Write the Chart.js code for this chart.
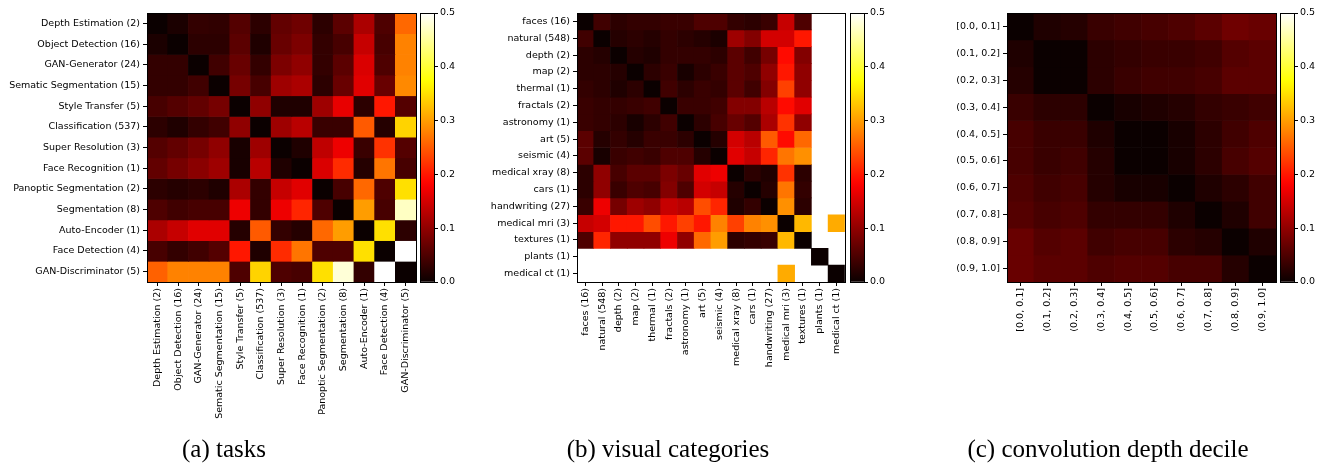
<!DOCTYPE html>
<html>
<head>
<meta charset="utf-8">
<script src="https://cdn.jsdelivr.net/npm/chart.js@4/dist/chart.umd.min.js"></script>
<style>
  body { margin: 0; background: #fff; width: 1317px; height: 463px; overflow: hidden; position: relative; }
  .box { position: absolute; top: 0; }
  .caption { position: absolute; top: 435px; font-family: "Liberation Serif", serif; font-size: 25px; line-height: 28px; color: #000; white-space: nowrap; transform: translateX(-50%); }
</style>
</head>
<body>
<div class="box" style="left:0px;width:420px;height:440px"><canvas id="taskChart"></canvas></div>
<div class="box" style="left:420px;width:40px;height:440px"><canvas id="taskBar"></canvas></div>
<div class="box" style="left:460px;width:390px;height:440px"><canvas id="visualChart"></canvas></div>
<div class="box" style="left:850px;width:40px;height:440px"><canvas id="visualBar"></canvas></div>
<div class="box" style="left:880px;width:400px;height:440px"><canvas id="depthChart"></canvas></div>
<div class="box" style="left:1280px;width:37px;height:440px"><canvas id="depthBar"></canvas></div>

<div class="caption" style="left:224px">(a) tasks</div>
<div class="caption" style="left:668px">(b) visual categories</div>
<div class="caption" style="left:1108px">(c) convolution depth decile</div>

<script>
// ---- data ----
var taskLabels = ['Depth Estimation (2)', 'Object Detection (16)', 'GAN-Generator (24)', 'Sematic Segmentation (15)',
    'Style Transfer (5)', 'Classification (537)', 'Super Resolution (3)', 'Face Recognition (1)',
    'Panoptic Segmentation (2)', 'Segmentation (8)', 'Auto-Encoder (1)', 'Face Detection (4)', 'GAN-Discriminator (5)'];

var taskValues = [
    [0, 0.012, 0.03, 0.028, 0.055, 0.025, 0.065, 0.075, 0.025, 0.06, 0.12, 0.05, 0.26],
    [0.012, 0, 0.025, 0.025, 0.06, 0.015, 0.07, 0.085, 0.03, 0.045, 0.14, 0.045, 0.28],
    [0.03, 0.03, 0, 0.04, 0.07, 0.03, 0.085, 0.1, 0.03, 0.06, 0.155, 0.05, 0.28],
    [0.03, 0.03, 0.04, 0, 0.08, 0.045, 0.11, 0.12, 0.025, 0.07, 0.16, 0.07, 0.285],
    [0.045, 0.055, 0.065, 0.08, 0, 0.1, 0.015, 0.015, 0.11, 0.165, 0.025, 0.2, 0.055],
    [0.025, 0.015, 0.03, 0.04, 0.1, 0, 0.11, 0.13, 0.035, 0.035, 0.25, 0.02, 0.34],
    [0.055, 0.065, 0.08, 0.1, 0.01, 0.11, 0, 0.015, 0.135, 0.17, 0.035, 0.22, 0.055],
    [0.065, 0.08, 0.095, 0.11, 0.01, 0.13, 0.015, 0, 0.155, 0.215, 0.02, 0.27, 0.045],
    [0.025, 0.02, 0.025, 0.015, 0.12, 0.03, 0.14, 0.16, 0, 0.045, 0.26, 0.05, 0.35],
    [0.05, 0.04, 0.045, 0.045, 0.17, 0.03, 0.17, 0.21, 0.05, 0, 0.3, 0.045, 0.47],
    [0.12, 0.14, 0.16, 0.16, 0.02, 0.25, 0.03, 0.02, 0.26, 0.3, 0, 0.35, 0.025],
    [0.045, 0.03, 0.04, 0.055, 0.2, 0.015, 0.215, 0.27, 0.05, 0.05, 0.35, 0, 0.5],
    [0.255, 0.28, 0.28, 0.28, 0.05, 0.34, 0.05, 0.045, 0.35, 0.48, 0.03, 0.5, 0]
];

var visualLabels = ['faces (16)', 'natural (548)', 'depth (2)', 'map (2)', 'thermal (1)', 'fractals (2)',
    'astronomy (1)', 'art (5)', 'seismic (4)', 'medical xray (8)', 'cars (1)', 'handwriting (27)',
    'medical mri (3)', 'textures (1)', 'plants (1)', 'medical ct (1)'];

// null = no value (left white)
var visualValues = [
    [0, 0.04, 0.025, 0.03, 0.03, 0.035, 0.035, 0.05, 0.05, 0.03, 0.025, 0.035, 0.14, 0.05, null, null],
    [0.04, 0, 0.02, 0.025, 0.02, 0.03, 0.025, 0.02, 0.012, 0.11, 0.09, 0.15, 0.15, 0.2, null, null],
    [0.025, 0.02, 0, 0.02, 0.015, 0.03, 0.03, 0.03, 0.025, 0.06, 0.04, 0.08, 0.19, 0.09, null, null],
    [0.025, 0.025, 0.02, 0, 0.025, 0.035, 0.01, 0.025, 0.035, 0.06, 0.05, 0.1, 0.2, 0.1, null, null],
    [0.03, 0.025, 0.015, 0.025, 0, 0.04, 0.025, 0.035, 0.03, 0.06, 0.04, 0.09, 0.23, 0.1, null, null],
    [0.035, 0.03, 0.03, 0.035, 0.04, 0, 0.035, 0.035, 0.04, 0.09, 0.09, 0.13, 0.19, 0.16, null, null],
    [0.035, 0.03, 0.025, 0.01, 0.025, 0.04, 0, 0.025, 0.045, 0.07, 0.055, 0.12, 0.22, 0.1, null, null],
    [0.06, 0.02, 0.03, 0.02, 0.035, 0.035, 0.025, 0, 0.02, 0.15, 0.13, 0.25, 0.19, 0.26, null, null],
    [0.06, 0.01, 0.035, 0.04, 0.035, 0.05, 0.05, 0.02, 0, 0.16, 0.14, 0.21, 0.27, 0.29, null, null],
    [0.025, 0.1, 0.045, 0.06, 0.06, 0.085, 0.07, 0.16, 0.17, 0, 0.025, 0.015, 0.22, 0.025, null, null],
    [0.025, 0.1, 0.035, 0.05, 0.045, 0.09, 0.05, 0.15, 0.14, 0.02, 0, 0.02, 0.27, 0.03, null, null],
    [0.035, 0.17, 0.08, 0.11, 0.1, 0.14, 0.13, 0.24, 0.21, 0.015, 0.03, 0, 0.29, 0.025, null, null],
    [0.14, 0.15, 0.2, 0.2, 0.24, 0.2, 0.23, 0.2, 0.28, 0.23, 0.28, 0.29, 0, 0.32, null, 0.31],
    [0.05, 0.21, 0.1, 0.1, 0.1, 0.17, 0.1, 0.26, 0.3, 0.025, 0.03, 0.035, 0.32, 0, null, null],
    [null, null, null, null, null, null, null, null, null, null, null, null, null, null, 0, null],
    [null, null, null, null, null, null, null, null, null, null, null, null, 0.31, null, null, 0]
];

var depthLabels = ['[0.0, 0.1]', '(0.1, 0.2]', '(0.2, 0.3]', '(0.3, 0.4]', '(0.4, 0.5]',
    '(0.5, 0.6]', '(0.6, 0.7]', '(0.7, 0.8]', '(0.8, 0.9]', '(0.9, 1.0]'];

var depthValues = [
    [0, 0.015, 0.02, 0.035, 0.04, 0.045, 0.05, 0.06, 0.075, 0.07],
    [0.015, 0, 0, 0.025, 0.03, 0.035, 0.035, 0.04, 0.055, 0.06],
    [0.02, 0, 0, 0.025, 0.035, 0.04, 0.04, 0.045, 0.06, 0.06],
    [0.035, 0.025, 0.025, 0, 0.01, 0.015, 0.02, 0.03, 0.035, 0.04],
    [0.045, 0.035, 0.035, 0.015, 0, 0, 0.01, 0.025, 0.04, 0.05],
    [0.045, 0.035, 0.04, 0.02, 0, 0, 0.01, 0.025, 0.045, 0.055],
    [0.05, 0.04, 0.045, 0.02, 0.01, 0.01, 0, 0.015, 0.025, 0.04],
    [0.055, 0.045, 0.05, 0.03, 0.03, 0.03, 0.015, 0, 0.015, 0.04],
    [0.07, 0.055, 0.06, 0.04, 0.045, 0.045, 0.025, 0.02, 0, 0.015],
    [0.07, 0.06, 0.06, 0.05, 0.055, 0.055, 0.045, 0.045, 0.02, 0]
];

var colorTicks = [0.0, 0.1, 0.2, 0.3, 0.4, 0.5];
var vmax = 0.5;

// ---- helpers ----
Chart.defaults.font.family = 'DejaVu Sans';
Chart.defaults.font.size = 9.5;
Chart.defaults.color = '#000';
Chart.defaults.animation = false;

// matplotlib 'hot' colormap
function hot(v) {
    var t = Math.min(Math.max(v / vmax, 0), 1);
    var r = t < 0.365079 ? 0.0416 + (1 - 0.0416) * t / 0.365079 : 1;
    var g = t < 0.365079 ? 0 : (t < 0.746032 ? (t - 0.365079) / (0.746032 - 0.365079) : 1);
    var b = t < 0.746032 ? 0 : (t - 0.746032) / (1 - 0.746032);
    return 'rgb(' + Math.round(r * 255) + ',' + Math.round(g * 255) + ',' + Math.round(b * 255) + ')';
}

var TOP = 13;
var AREA = 269;
var H = 440;

// black frame round the plot area
var framePlugin = {
    id: 'frame',
    afterDraw: function (chart) {
        var a = chart.chartArea;
        var c = chart.ctx;
        c.save();
        c.strokeStyle = '#000';
        c.lineWidth = 1;
        c.strokeRect(Math.round(a.left) + 0.5, Math.round(a.top) + 0.5, Math.round(a.right - a.left), Math.round(a.bottom - a.top));
        c.restore();
    }
};

function makeHeatmap(id, labels, values, yWidth) {
    var n = labels.length;
    var datasets = values.map(function (row, i) {
        return {
            data: row.map(function (v) { return v === null ? null : [i, i + 1]; }),
            backgroundColor: row.map(function (v) { return v === null ? 'rgba(0,0,0,0)' : hot(v); }),
            borderWidth: 0,
            grouped: false,
            barPercentage: 1,
            categoryPercentage: 1
        };
    });

    new Chart(document.getElementById(id), {
        type: 'bar',
        data: { labels: labels, datasets: datasets },
        options: {
            responsive: true,
            maintainAspectRatio: false,
            layout: { padding: { top: TOP, right: 4, left: 0, bottom: 0 } },
            plugins: { legend: { display: false }, tooltip: { enabled: false } },
            scales: {
                x: {
                    grid: { offset: false, drawOnChartArea: false, color: '#000', tickLength: 4 },
                    border: { color: '#000' },
                    ticks: { maxRotation: 90, minRotation: 90, padding: 2, autoSkip: false },
                    afterFit: function (s) { s.height = H - TOP - AREA; }
                },
                y: {
                    type: 'linear',
                    reverse: true,
                    min: 0,
                    max: n,
                    grid: { drawOnChartArea: false, color: '#000', tickLength: 4 },
                    border: { color: '#000' },
                    afterBuildTicks: function (s) {
                        s.ticks = labels.map(function (_, i) { return { value: i + 0.5 }; });
                    },
                    ticks: {
                        padding: 3,
                        autoSkip: false,
                        callback: function (value) { return labels[Math.floor(value)]; }
                    },
                    afterFit: function (s) { s.width = yWidth; }
                }
            }
        },
        plugins: [framePlugin]
    });
}

function makeColorbar(id, axisWidth) {
    new Chart(document.getElementById(id), {
        type: 'bar',
        data: {
            labels: [''],
            datasets: [{
                data: [[colorTicks[0], colorTicks[colorTicks.length - 1]]],
                borderWidth: 0,
                barPercentage: 1,
                categoryPercentage: 1,
                backgroundColor: function (ctx) {
                    var a = ctx.chart.chartArea;
                    if (!a) return '#000';
                    var g = ctx.chart.ctx.createLinearGradient(0, a.bottom, 0, a.top);
                    for (var k = 0; k <= 40; k++) {
                        g.addColorStop(k / 40, hot(vmax * k / 40));
                    }
                    return g;
                }
            }]
        },
        options: {
            responsive: true,
            maintainAspectRatio: false,
            layout: { padding: { top: TOP, right: 0, left: 0, bottom: H - TOP - AREA } },
            plugins: { legend: { display: false }, tooltip: { enabled: false } },
            scales: {
                x: { display: false },
                y: {
                    position: 'right',
                    min: colorTicks[0],
                    max: colorTicks[colorTicks.length - 1],
                    grid: { drawOnChartArea: false, color: '#000', tickLength: 4 },
                    border: { color: '#000' },
                    afterBuildTicks: function (s) {
                        s.ticks = colorTicks.map(function (v) { return { value: v }; });
                    },
                    ticks: {
                        padding: 2,
                        callback: function (v) { return v.toFixed(1); }
                    },
                    afterFit: function (s) { s.width = axisWidth; }
                }
            }
        },
        plugins: [framePlugin]
    });
}

makeHeatmap('taskChart', taskLabels, taskValues, 147);
makeColorbar('taskBar', 26);
makeHeatmap('visualChart', visualLabels, visualValues, 117);
makeColorbar('visualBar', 26);
makeHeatmap('depthChart', depthLabels, depthValues, 127);
makeColorbar('depthBar', 23);
</script>
</body>
</html>
